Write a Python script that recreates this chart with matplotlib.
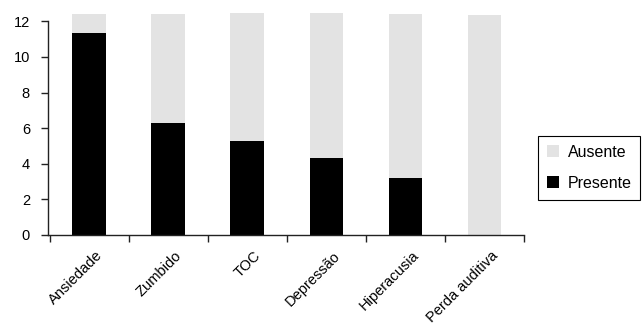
import matplotlib
matplotlib.use("Agg")
import matplotlib.pyplot as plt
import matplotlib.transforms as mtransforms
import numpy as np

plt.rcParams['font.family'] = ['Liberation Sans', 'DejaVu Sans']

categories = ["Ansiedade", "Zumbido", "TOC", "Depressão", "Hiperacusia", "Perda auditiva"]
presente = [11.35, 6.3, 5.3, 4.35, 3.2, 0.0]
ausente = [1.05, 6.1, 7.15, 8.1, 9.2, 12.35]
y_ticks = [0, 2, 4, 6, 8, 10, 12]

fig = plt.figure(figsize=(6.43, 3.29), dpi=100)
W, H = 643, 329
ax = fig.add_axes([48 / W, (H - 235) / H, (524 - 48) / W, (235 - 12.5) / H])

x = np.arange(len(categories)) + 0.5
bw = 0.43
ax.bar(x, presente, width=bw, color="black", label="Presente", zorder=2)
ax.bar(x, ausente, width=bw, bottom=presente, color="#e3e3e3", label="Ausente", zorder=2)

ax.set_ylim(0, 12.5)
ax.set_xlim(-0.025, len(categories))
ax.set_yticks(y_ticks)
ax.set_yticklabels([str(v) for v in y_ticks], fontsize=10.5)
ax.spines['left'].set_bounds(0, 12)
ax.spines['top'].set_visible(False)
ax.spines['right'].set_visible(False)
for s in ['left', 'bottom']:
    ax.spines[s].set_linewidth(1.0)
    ax.spines[s].set_color("#222222")

ax.set_xticks(np.arange(len(categories) + 1))
ax.set_xticklabels([])
ax.set_xticks(x, minor=True)
ax.set_xticklabels(categories, minor=True, rotation=45, ha='right',
                   rotation_mode='anchor', fontsize=10.5)
ax.tick_params(axis='x', which='minor', length=0, pad=4)
ax.tick_params(axis='x', which='major', length=5, width=1.0, direction='out', color="#222222")
ax.tick_params(axis='y', length=5, width=1.0, direction='out', color="#222222", pad=8)

offset = mtransforms.ScaledTranslation(6 / 100, -8 / 100, fig.dpi_scale_trans)
for lbl in ax.get_xticklabels(minor=True):
    lbl.set_transform(lbl.get_transform() + offset)

handles, labels = ax.get_legend_handles_labels()
leg = fig.legend(handles[::-1], labels[::-1], loc='upper left',
                 bbox_to_anchor=(538 / W, 1 - 136 / H), frameon=True, fancybox=False,
                 edgecolor='black', framealpha=1, fontsize=11.5,
                 handlelength=0.75, handleheight=0.75, handletextpad=0.55,
                 labelspacing=1.0, borderpad=0.55, borderaxespad=0)
leg.get_frame().set_linewidth(0.8)

fig.savefig("out.png", dpi=100)
